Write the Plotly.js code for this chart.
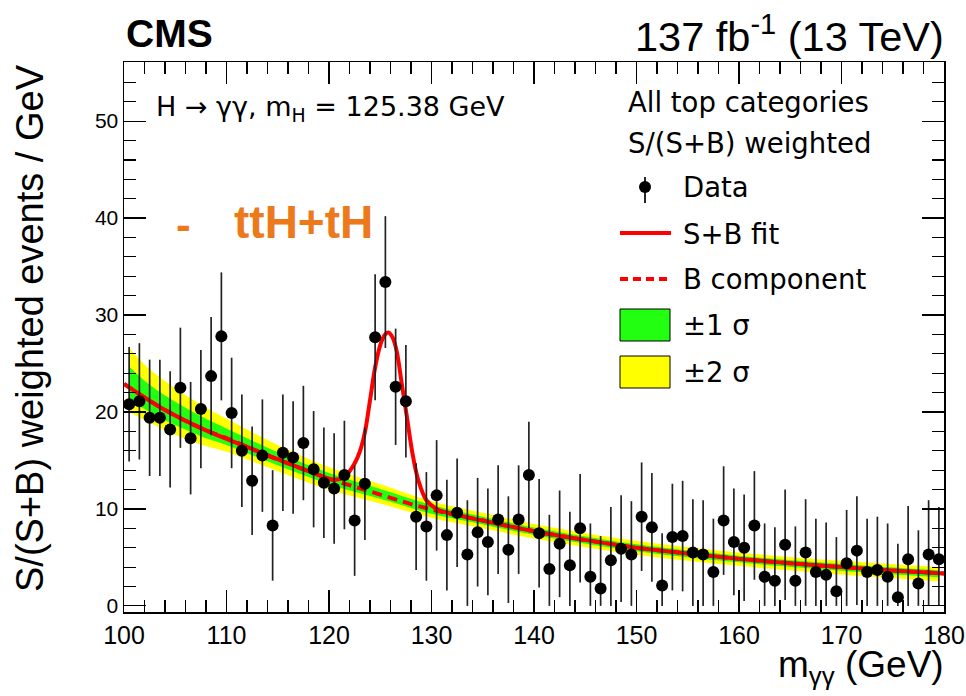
<!DOCTYPE html>
<html><head><meta charset="utf-8">
<script src="https://cdn.plot.ly/plotly-3.0.1.min.js"></script>
<style>html,body{margin:0;padding:0;background:#fff}</style>
</head><body><div id="chart" style="width:966px;height:696px"></div>
<script>
// ---- data ----
const binCenters = [100.5,101.5,102.5,103.5,104.5,105.5,106.5,107.5,108.5,109.5,
  110.5,111.5,112.5,113.5,114.5,115.5,116.5,117.5,118.5,119.5,
  120.5,121.5,122.5,123.5,124.5,125.5,126.5,127.5,128.5,129.5,
  130.5,131.5,132.5,133.5,134.5,135.5,136.5,137.5,138.5,139.5,
  140.5,141.5,142.5,143.5,144.5,145.5,146.5,147.5,148.5,149.5,
  150.5,151.5,152.5,153.5,154.5,155.5,156.5,157.5,158.5,159.5,
  160.5,161.5,162.5,163.5,164.5,165.5,166.5,167.5,168.5,169.5,
  170.5,171.5,172.5,173.5,174.5,175.5,176.5,177.5,178.5,179.5];
const dataY = [20.8,21.1,19.4,19.4,18.2,22.5,17.3,20.3,23.7,27.8,
  19.9,16.0,12.9,15.5,8.3,15.8,15.3,16.8,14.1,12.7,
  12.1,13.5,8.8,12.6,27.7,33.4,22.6,21.1,9.2,8.2,
  11.4,7.3,9.6,5.3,7.6,6.6,8.9,5.8,8.9,13.5,
  7.5,3.8,6.4,4.2,8.0,3.0,1.8,4.7,5.9,5.3,
  9.2,8.1,2.1,7.1,7.2,5.5,5.3,3.5,8.8,6.6,
  6.0,8.3,3.0,2.6,6.3,2.6,5.5,3.5,3.2,1.5,
  4.4,5.7,3.5,3.7,3.0,0.9,4.8,2.3,5.3,4.8];
const dataErr = [5.9,6.0,6.0,6.0,6.0,6.2,5.8,6.1,6.1,6.6,
  5.7,5.8,5.6,5.8,5.7,6.0,5.8,5.9,6.0,5.7,
  5.7,5.6,5.7,5.8,6.5,6.8,6.0,5.8,5.5,5.6,
  5.7,5.7,5.6,5.6,5.6,5.5,5.6,5.5,5.6,5.5,
  5.6,5.6,5.5,5.5,5.6,5.5,5.4,5.5,5.5,5.5,
  5.6,5.6,5.4,5.5,5.7,5.5,5.6,5.5,5.6,5.5,
  5.5,5.6,5.5,5.5,5.7,5.6,5.5,5.5,5.4,5.6,
  5.5,5.6,5.5,5.5,5.5,5.5,5.5,5.5,5.6,5.4];

const bkgMass = [100,102,104,106,108,110,112,114,116,118,120,122,124,126,128,130,132,135,140,145,150,155,160,165,170,175,180];
const bkgVal  = [22.9,21.5,20.2,19.1,18.1,17.3,16.4,15.5,14.7,13.9,13.1,12.45,11.8,11.15,10.5,9.95,9.45,8.8,7.7,6.8,6.0,5.4,4.85,4.4,4.0,3.65,3.35];

const sbMass = [100,104,108,112,116,119,120.5,121.5,122.5,123,123.5,124,124.5,125,125.4,125.8,126.2,126.6,127.1,127.6,128.1,128.7,129.5,130.5,132,135,140,145,150,155,160,165,170,175,180];
const sbVal  = [22.9,20.2,18.1,16.4,14.7,13.5,13.0,13.3,14.7,15.9,17.9,21.2,24.6,26.9,27.9,28.2,27.7,26.3,22.9,19.5,16.0,13.0,10.9,10.0,9.5,8.8,7.7,6.8,6.0,5.4,4.85,4.4,4.0,3.65,3.35];

const bandMass = [100.5,102.5,105,107.5,110,115,120,125,130,135,140,150,160,170,179.5];
const band2Up  = [26.6,24.4,22.45,20.75,19.3,16.6,14.3,12.55,10.8,9.6,8.45,6.7,5.5,4.65,4.0];
const band1Up  = [24.7,22.8,21.05,19.55,18.3,15.85,13.7,12.05,10.4,9.2,8.08,6.35,5.18,4.33,3.68];
const band1Lo  = [21.2,20.0,18.65,17.5,16.6,14.5,12.55,11.05,9.5,8.4,7.32,5.64,4.49,3.62,2.95];
const band2Lo  = [20.0,18.9,17.65,16.65,15.9,13.9,12.0,10.55,9.1,8.0,6.95,5.28,4.13,3.25,2.55];

const xTickVals = [100,110,120,130,140,150,160,170,180];
const yTickVals = [0,10,20,30,40,50];

// ---- styling ----
const GREEN = '#22ff11', YELLOW = '#ffff00', RED = '#ff0000', ORANGE = '#ec7a1c';
const TXT = 'DejaVu Sans, sans-serif';
const HEL = 'Liberation Sans, Arial, sans-serif';

const L = 124, R = 22, T = 62, B = 84, W = 966, H = 696;
const PW = W - L - R, PH = H - T - B;
const px = x => (x - L) / PW;
const py = y => (T + PH - y) / PH;

const traces = [
  {x: bandMass, y: band2Up, mode: 'lines', line: {width: 0, shape: 'spline'}, hoverinfo: 'skip', showlegend: false},
  {x: bandMass, y: band2Lo, mode: 'lines', line: {width: 0, shape: 'spline'}, fill: 'tonexty', fillcolor: YELLOW, hoverinfo: 'skip', showlegend: false},
  {x: bandMass, y: band1Up, mode: 'lines', line: {width: 0, shape: 'spline'}, hoverinfo: 'skip', showlegend: false},
  {x: bandMass, y: band1Lo, mode: 'lines', line: {width: 0, shape: 'spline'}, fill: 'tonexty', fillcolor: GREEN, hoverinfo: 'skip', showlegend: false},
  {x: bkgMass, y: bkgVal, mode: 'lines', name: 'B component', line: {color: RED, width: 4, dash: '10px,6px', shape: 'spline'}, showlegend: false},
  {x: sbMass, y: sbVal, mode: 'lines', name: 'S+B fit', line: {color: RED, width: 4, shape: 'spline', smoothing: 1}, showlegend: false},
  {x: binCenters, y: dataY, mode: 'markers', name: 'Data',
   marker: {color: '#000', size: 12},
   error_y: {type: 'data', symmetric: false, array: dataErr, arrayminus: dataY.map((v, i) => Math.min(v, dataErr[i])), color: '#222', thickness: 1.7, width: 0},
   showlegend: false}
];

const ann = [];
const shapes = [];
function addText(text, x, y, size, opts) {
  ann.push(Object.assign({text: text, xref: 'paper', yref: 'paper', x: px(x), y: py(y),
    showarrow: false, xanchor: 'left', yanchor: 'middle',
    font: {family: TXT, size: size, color: '#000'}}, opts || {}));
}
// header texts
addText('CMS', 124, 34, 39, {font: {family: HEL, size: 39, color: '#000', weight: 'bold'}});
addText('137 fb<sup>-1</sup> (13 TeV)', 946, 34, 41.5, {xanchor: 'right', font: {family: HEL, size: 41.5, color: '#000'}});
addText('H \u2192 \u03b3\u03b3, m<sub>H</sub> = 125.38 GeV', 154, 108, 27);
addText('-', 174, 224, 44, {font: {family: HEL, size: 44, color: ORANGE, weight: 'bold'}});
addText('ttH+tH', 232, 222, 46, {font: {family: HEL, size: 46, color: ORANGE, weight: 'bold'}});
// axis titles
addText('m<sub>\u03b3\u03b3</sub> (GeV)', 946, 667, 37, {xanchor: 'right', font: {family: HEL, size: 37, color: '#000'}});
addText('S/(S+B) weighted events / GeV', 30, 62, 38, {xanchor: 'center', yanchor: 'top', textangle: -90, font: {family: HEL, size: 38, color: '#000'}});

// legend (manual, ROOT style)
addText('All top categories', 626, 102, 27.5);
addText('S/(S+B) weighted', 626, 143, 27.5);
addText('Data', 681, 187, 27.5);
addText('S+B fit', 681, 234, 27.5);
addText('B component', 681, 279, 27.5);
addText('\u00b11 \u03c3', 681, 325, 27.5);
addText('\u00b12 \u03c3', 681, 372, 27.5);
shapes.push({type: 'line', xref: 'paper', yref: 'paper', x0: px(645), x1: px(645), y0: py(177), y1: py(203), line: {color: '#000', width: 1.7}});
shapes.push({type: 'circle', xref: 'paper', yref: 'paper', x0: px(639), x1: px(651), y0: py(181), y1: py(193), fillcolor: '#000', line: {color: '#000', width: 0}});
shapes.push({type: 'line', xref: 'paper', yref: 'paper', x0: px(620), x1: px(671), y0: py(233), y1: py(233), line: {color: RED, width: 4}});
shapes.push({type: 'line', xref: 'paper', yref: 'paper', x0: px(620), x1: px(671), y0: py(279), y1: py(279), line: {color: RED, width: 4, dash: '8px,5px'}});
shapes.push({type: 'rect', xref: 'paper', yref: 'paper', x0: px(620), x1: px(670), y0: py(309), y1: py(341), fillcolor: GREEN, line: {color: '#000', width: 1}});
shapes.push({type: 'rect', xref: 'paper', yref: 'paper', x0: px(620), x1: px(670), y0: py(356), y1: py(388), fillcolor: YELLOW, line: {color: '#000', width: 1}});

const axisCommon = {
  showline: true, linecolor: '#000', linewidth: 1.5, mirror: 'allticks',
  ticks: 'inside', tickcolor: '#000', tickwidth: 1.2, ticklen: 22,
  showgrid: false, zeroline: false, ticklabeloverflow: 'allow',
  minor: {dtick: 2, ticks: 'inside', ticklen: 12, tickcolor: '#000', tickwidth: 1.2, showgrid: false}
};
const layout = {
  width: W, height: H,
  margin: {l: L, r: R, t: T, b: B},
  paper_bgcolor: '#fff', plot_bgcolor: '#fff',
  showlegend: false,
  xaxis: Object.assign({}, axisCommon, {range: [100, 180], tickvals: xTickVals, tickmode: 'array',
    tickfont: {family: HEL, size: 25, color: '#000'}}),
  yaxis: Object.assign({}, axisCommon, {range: [-0.63, 56.1], tickvals: yTickVals, tickmode: 'array',
    minor: Object.assign({}, axisCommon.minor, {tick0: 0}),
    tickfont: {family: HEL, size: 21, color: '#000'}}),
  annotations: ann,
  shapes: shapes
};
Plotly.newPlot('chart', traces, layout, {staticPlot: true, displayModeBar: false});
</script>
</body></html>
